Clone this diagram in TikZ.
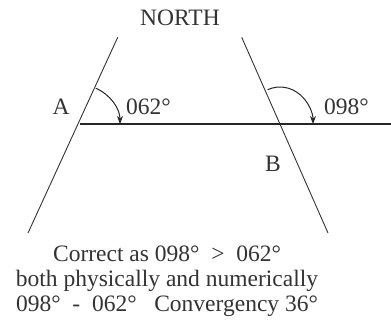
\documentclass[tikz,border=0pt]{standalone}
\usepackage{fontspec}
\setmainfont{Liberation Serif}
\usetikzlibrary{arrows.meta, calc}

\begin{document}
\begin{tikzpicture}[x=1pt, y=1pt, >={Stealth[length=8pt, width=6pt]},
    meridian/.style={black!80, line width=0.9pt},
    parallel/.style={black!85, line width=1.2pt},
    bearing/.style={->, black!85, line width=1pt},
    lbl/.style={black!80, font=\fontsize{23.5}{25}\selectfont, inner sep=0pt}]
    \useasboundingbox (0,0) rectangle (391,325);

    % 交点与子午线端点
    \coordinate (A) at (78,201);
    \coordinate (B) at (280,201);
    \coordinate (Atop) at (117.7,287.7);
    \coordinate (Abot) at (28,92);
    \coordinate (Btop) at (241.7,287.7);
    \coordinate (Bbot) at (328,92);
    \coordinate (Aend) at (80,201);
    \coordinate (Eend) at (391,201);

    % 子午线 (向北收敛)
    \draw[meridian] (Abot) -- (Atop);
    \draw[meridian] (Bbot) -- (Btop);

    % 连线 A--B
    \draw[parallel] (Aend) -- (Eend);

    % 方位角弧
    \draw[bearing] ($(A)+(65:42 and 39.5)$) arc[start angle=65, end angle=0, x radius=42, y radius=39.5];
    \draw[bearing] ($(B)+(112:33 and 37)$) arc[start angle=112, end angle=0, x radius=33, y radius=37];

    % 标签
    \node[lbl] (north) at (180,307.5) {NORTH};
    \node[lbl] (labA) at (61,218) {A};
    \node[lbl] (labB) at (273,161) {B};
    \node[lbl, anchor=west] (angA) at (126,218) {062°};
    \node[lbl, anchor=west] (angB) at (324,218) {098°};

    % 说明文字
    \node[lbl, align=center] (note) at (167,44)
        {Correct as 098°\ \ >\ \ 062°\\
         both physically and numerically\\
         098°\ \ -\ \ 062°\ \ \ Convergency 36°};
\end{tikzpicture}
\end{document}
